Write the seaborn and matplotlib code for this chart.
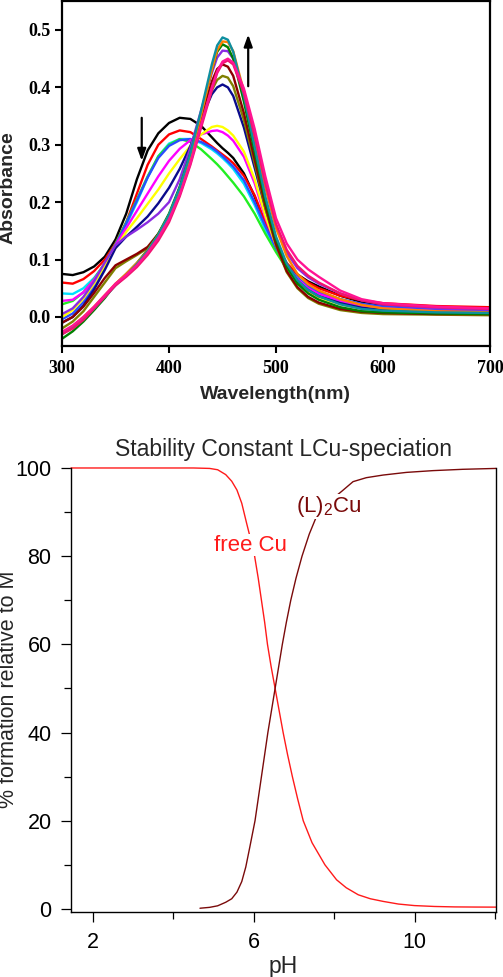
import matplotlib
matplotlib.use("Agg")
import matplotlib.pyplot as plt
import seaborn as sns
import pandas as pd
from matplotlib.ticker import FixedLocator, FormatStrFormatter, MultipleLocator

sns.set_style("ticks")
plt.rcParams["font.family"] = ["Liberation Sans", "DejaVu Sans"]
plt.rcParams["mathtext.default"] = "regular"

# ---------------- data: UV-vis titration spectra ----------------
wavelength = [300, 310, 320, 330, 340, 350, 360, 370, 380, 390, 400, 410, 420, 430, 440, 445,
              450, 455, 460, 470, 480, 490, 500, 510, 520, 530, 540, 560, 580, 600, 650, 700]

abs_black = [0.075, 0.073, 0.078, 0.088, 0.105, 0.135, 0.180, 0.240, 0.290, 0.320, 0.338, 0.347, 0.345, 0.333, 0.313, 0.303,
             0.294, 0.286, 0.277, 0.250, 0.210, 0.158, 0.118, 0.090, 0.074, 0.062, 0.053, 0.037, 0.026, 0.020, 0.013, 0.010]
abs_red = [0.060, 0.058, 0.066, 0.080, 0.100, 0.128, 0.165, 0.215, 0.265, 0.300, 0.318, 0.325, 0.322, 0.310, 0.297, 0.290,
           0.283, 0.276, 0.268, 0.246, 0.212, 0.165, 0.124, 0.094, 0.074, 0.060, 0.050, 0.037, 0.029, 0.024, 0.019, 0.017]
abs_cyan = [0.041, 0.040, 0.050, 0.068, 0.092, 0.125, 0.160, 0.200, 0.243, 0.280, 0.302, 0.310, 0.310, 0.303, 0.292, 0.285,
            0.277, 0.268, 0.258, 0.232, 0.195, 0.152, 0.116, 0.088, 0.068, 0.054, 0.044, 0.031, 0.022, 0.017, 0.012, 0.010]
abs_lime = [0.022, 0.028, 0.043, 0.066, 0.094, 0.127, 0.165, 0.205, 0.245, 0.280, 0.300, 0.310, 0.305, 0.292, 0.275, 0.266,
            0.256, 0.245, 0.234, 0.210, 0.180, 0.145, 0.113, 0.084, 0.063, 0.049, 0.039, 0.027, 0.019, 0.014, 0.009, 0.007]
abs_blue = [-0.004, 0.006, 0.026, 0.053, 0.086, 0.125, 0.163, 0.203, 0.243, 0.277, 0.298, 0.308, 0.310, 0.305, 0.295, 0.288,
            0.280, 0.271, 0.262, 0.238, 0.200, 0.158, 0.120, 0.089, 0.068, 0.053, 0.043, 0.031, 0.023, 0.018, 0.013, 0.011]
abs_magenta = [0.028, 0.030, 0.043, 0.065, 0.092, 0.125, 0.155, 0.185, 0.215, 0.245, 0.272, 0.293, 0.308, 0.318, 0.324, 0.325,
               0.322, 0.316, 0.307, 0.279, 0.233, 0.173, 0.125, 0.090, 0.066, 0.050, 0.040, 0.028, 0.020, 0.015, 0.010, 0.008]
abs_yellow = [0.000, 0.012, 0.032, 0.058, 0.090, 0.120, 0.148, 0.172, 0.197, 0.222, 0.250, 0.275, 0.298, 0.318, 0.331, 0.333,
              0.331, 0.325, 0.316, 0.288, 0.240, 0.177, 0.125, 0.088, 0.062, 0.045, 0.034, 0.022, 0.014, 0.010, 0.006, 0.004]
abs_navy = [-0.010, 0.000, 0.020, 0.048, 0.082, 0.120, 0.140, 0.157, 0.175, 0.198, 0.225, 0.258, 0.298, 0.345, 0.388, 0.400,
            0.405, 0.400, 0.385, 0.330, 0.260, 0.190, 0.130, 0.090, 0.063, 0.047, 0.036, 0.024, 0.016, 0.012, 0.009, 0.008]
abs_olive = [-0.020, -0.008, 0.010, 0.035, 0.060, 0.085, 0.097, 0.108, 0.120, 0.142, 0.172, 0.220, 0.278, 0.340, 0.395, 0.413,
             0.420, 0.417, 0.402, 0.343, 0.268, 0.190, 0.124, 0.078, 0.050, 0.033, 0.023, 0.012, 0.007, 0.005, 0.004, 0.003]
abs_maroon = [-0.010, 0.000, 0.018, 0.042, 0.068, 0.090, 0.100, 0.110, 0.122, 0.145, 0.175, 0.225, 0.285, 0.350, 0.410, 0.432,
              0.440, 0.436, 0.420, 0.355, 0.275, 0.195, 0.127, 0.080, 0.052, 0.035, 0.025, 0.014, 0.009, 0.007, 0.005, 0.005]
abs_purple = [0.005, 0.015, 0.035, 0.062, 0.095, 0.125, 0.140, 0.152, 0.165, 0.180, 0.200, 0.240, 0.295, 0.360, 0.425, 0.452,
              0.464, 0.463, 0.450, 0.392, 0.312, 0.230, 0.157, 0.112, 0.085, 0.069, 0.058, 0.041, 0.029, 0.022, 0.015, 0.012]
abs_dgreen = [-0.038, -0.025, -0.008, 0.012, 0.033, 0.057, 0.075, 0.094, 0.117, 0.145, 0.180, 0.227, 0.285, 0.355, 0.430, 0.462,
              0.475, 0.470, 0.450, 0.375, 0.288, 0.203, 0.135, 0.088, 0.058, 0.041, 0.030, 0.017, 0.010, 0.008, 0.006, 0.005]
abs_orange = [-0.028, -0.016, 0.000, 0.018, 0.038, 0.058, 0.075, 0.094, 0.116, 0.143, 0.177, 0.222, 0.280, 0.352, 0.430, 0.465,
              0.480, 0.479, 0.463, 0.393, 0.310, 0.226, 0.155, 0.106, 0.075, 0.057, 0.046, 0.031, 0.021, 0.015, 0.010, 0.008]
abs_teal = [-0.030, -0.018, -0.003, 0.015, 0.035, 0.055, 0.072, 0.092, 0.115, 0.143, 0.178, 0.225, 0.285, 0.360, 0.440, 0.473,
            0.487, 0.483, 0.462, 0.385, 0.297, 0.210, 0.140, 0.093, 0.064, 0.047, 0.036, 0.022, 0.014, 0.011, 0.008, 0.007]
abs_crimson = [-0.030, -0.020, -0.005, 0.015, 0.035, 0.055, 0.070, 0.087, 0.108, 0.133, 0.165, 0.210, 0.265, 0.330, 0.395, 0.425,
               0.442, 0.447, 0.440, 0.390, 0.316, 0.233, 0.162, 0.117, 0.089, 0.072, 0.060, 0.041, 0.029, 0.022, 0.017, 0.014]
abs_pink = [-0.026, -0.015, 0.000, 0.018, 0.038, 0.058, 0.073, 0.090, 0.112, 0.138, 0.170, 0.213, 0.268, 0.335, 0.400, 0.428,
            0.445, 0.450, 0.443, 0.398, 0.328, 0.245, 0.172, 0.128, 0.100, 0.083, 0.070, 0.046, 0.031, 0.024, 0.018, 0.015]

spectrum_names = ["black", "red", "cyan", "lime", "blue", "magenta", "yellow", "navy", "olive",
                  "maroon", "purple", "dgreen", "orange", "teal", "crimson", "pink"]
spectrum_values = [abs_black, abs_red, abs_cyan, abs_lime, abs_blue, abs_magenta, abs_yellow, abs_navy,
                   abs_olive, abs_maroon, abs_purple, abs_dgreen, abs_orange, abs_teal, abs_crimson, abs_pink]
spectrum_colors = ["#000000", "#ff0000", "#00e1ff", "#22ee22", "#2a4dff", "#ff00ff", "#ffff00", "#0a0a8c",
                   "#808000", "#8b0000", "#8a2be2", "#008000", "#ff8000", "#0e8fa0", "#f0146e", "#ff1493"]

# ---------------- data: speciation ----------------
ph_free = [1.45, 3.0, 4.5, 4.9, 5.1, 5.3, 5.45, 5.58, 5.7, 5.82, 5.93, 6.02, 6.11, 6.19, 6.27, 6.34, 6.43, 6.53,
           6.63, 6.73, 6.84, 6.96, 7.09, 7.23, 7.45, 7.77, 8.06, 8.3, 8.6, 8.9, 9.22, 9.6, 10.0, 10.5, 11.0, 11.5, 12.03]
pct_free = [100, 100, 100, 99.9, 99.6, 98.5, 97.0, 95.0, 92.0, 87.5, 83.5, 80.0, 75.0, 70.0, 65.0, 60.0, 55.0, 50.0,
            45.0, 40.0, 35.0, 30.0, 25.0, 20.0, 15.0, 10.0, 6.6, 4.8, 3.2, 2.3, 1.7, 1.1, 0.75, 0.55, 0.45, 0.42, 0.4]
ph_l2cu = [4.66, 4.9, 5.1, 5.3, 5.45, 5.58, 5.7, 5.8, 5.9, 6.03, 6.11, 6.19, 6.27, 6.35, 6.44, 6.53, 6.62, 6.71,
           6.81, 6.92, 7.05, 7.2, 7.38, 7.56, 7.8, 8.0, 8.2, 8.47, 8.8, 9.22, 9.8, 10.46, 11.2, 12.03]
pct_l2cu = [0.15, 0.35, 0.7, 1.5, 2.3, 3.8, 6.2, 9.5, 14.0, 20.0, 25.0, 30.0, 35.0, 40.0, 45.0, 50.0, 55.0, 60.0,
            65.0, 70.0, 75.0, 80.0, 85.0, 89.0, 91.5, 93.3, 94.8, 96.9, 97.8, 98.4, 99.0, 99.4, 99.7, 99.9]

# ---------------- build figure ----------------
fig = plt.figure(figsize=(5.03, 9.77), dpi=100)
ax1 = fig.add_axes([0.1233, 0.6462, 0.8509, 0.3525])
ax2 = fig.add_axes([0.1412, 0.067, 0.845, 0.454])

rows = []
for name, vals in zip(spectrum_names, spectrum_values):
    for wl, a in zip(wavelength, vals):
        rows.append({"wl": wl, "A": a, "s": name})
df_spec = pd.DataFrame(rows)
sns.lineplot(data=df_spec, x="wl", y="A", hue="s", hue_order=spectrum_names,
             palette=dict(zip(spectrum_names, spectrum_colors)), estimator=None, sort=False,
             legend=False, linewidth=1.7, ax=ax1)

ax1.set_xlim(300, 700)
ax1.set_ylim(-0.05, 0.55)
ax1.xaxis.set_major_locator(MultipleLocator(100))
ax1.yaxis.set_major_locator(FixedLocator([0.0, 0.1, 0.2, 0.3, 0.4, 0.5]))
ax1.yaxis.set_major_formatter(FormatStrFormatter("%.1f"))
for sp in ax1.spines.values():
    sp.set_linewidth(1.6)
    sp.set_color("black")
ax1.tick_params(direction="out", length=5, width=1.5, pad=3, colors="black")
ax1.tick_params(axis="x", pad=5)
for lab in ax1.get_xticklabels() + ax1.get_yticklabels():
    lab.set_fontfamily(["Liberation Serif", "DejaVu Serif"])
    lab.set_fontweight("bold")
    lab.set_fontsize(13)
ax1.set_xlabel("Wavelength(nm)", fontsize=14, fontweight="bold")
ax1.set_ylabel("Absorbance", fontsize=14, fontweight="bold")
ax1.xaxis.set_label_coords(0.499, -0.118)
ax1.yaxis.set_label_coords(-0.107, 0.459)

arrow_kw = dict(arrowstyle="-|>,head_length=0.5,head_width=0.18", lw=1.6, color="black",
                mutation_scale=14, shrinkA=0, shrinkB=0)
ax1.annotate("", xy=(374.5, 0.272), xytext=(374.5, 0.347), arrowprops=arrow_kw)
ax1.annotate("", xy=(474, 0.492), xytext=(474, 0.402), arrowprops=arrow_kw)

# speciation
df_spc = pd.concat([
    pd.DataFrame({"pH": ph_free, "pct": pct_free, "sp": "free Cu"}),
    pd.DataFrame({"pH": ph_l2cu, "pct": pct_l2cu, "sp": "L2Cu"}),
])
sns.lineplot(data=df_spc, x="pH", y="pct", hue="sp", hue_order=["free Cu", "L2Cu"],
             palette={"free Cu": "#ff1a1a", "L2Cu": "#7a0a0a"}, estimator=None, sort=False,
             legend=False, linewidth=1.0, ax=ax2)
for ln in ax2.lines:
    ln.set_clip_on(False)

ax2.set_xlim(1.45, 12.03)
ax2.set_ylim(-0.6, 100)
ax2.spines["top"].set_visible(False)
for s in ["left", "right", "bottom"]:
    ax2.spines[s].set_linewidth(1.0)
    ax2.spines[s].set_color("black")
ax2.xaxis.set_major_locator(FixedLocator([2, 6, 10]))
ax2.xaxis.set_minor_locator(FixedLocator([4, 8, 12]))
ax2.yaxis.set_major_locator(FixedLocator([0, 20, 40, 60, 80, 100]))
ax2.yaxis.set_minor_locator(FixedLocator([10, 30, 50, 70, 90]))
ax2.tick_params(axis="both", which="major", direction="out", length=7, width=0.9, labelsize=15.5, colors="black")
ax2.tick_params(axis="y", which="major", pad=7)
ax2.tick_params(axis="x", which="major", pad=8)
ax2.tick_params(axis="both", which="minor", direction="out", length=5, width=0.9, colors="black")
ax2.tick_params(axis="y", which="both", right=False)
ax2.set_xlabel("pH", fontsize=16.5)
ax2.set_ylabel("% formation relative to M", fontsize=15.5)
ax2.xaxis.set_label_coords(0.5, -0.097)
ax2.yaxis.set_label_coords(-0.122, 0.5)
ax2.set_title("Stability Constant LCu-speciation", fontsize=16.5, pad=8.5)

ax2.text(5.91, 82.5, "free Cu", color="#ff1a1a", fontsize=16, ha="center", va="center",
         bbox=dict(facecolor="white", edgecolor="none", pad=0.5), zorder=5)
ax2.text(7.87, 91.2, "(L)$_2$Cu", color="#7a0a0a", fontsize=16, ha="center", va="center",
         bbox=dict(facecolor="white", edgecolor="none", pad=0.0), zorder=5)

fig.savefig("out.png", dpi=100)
